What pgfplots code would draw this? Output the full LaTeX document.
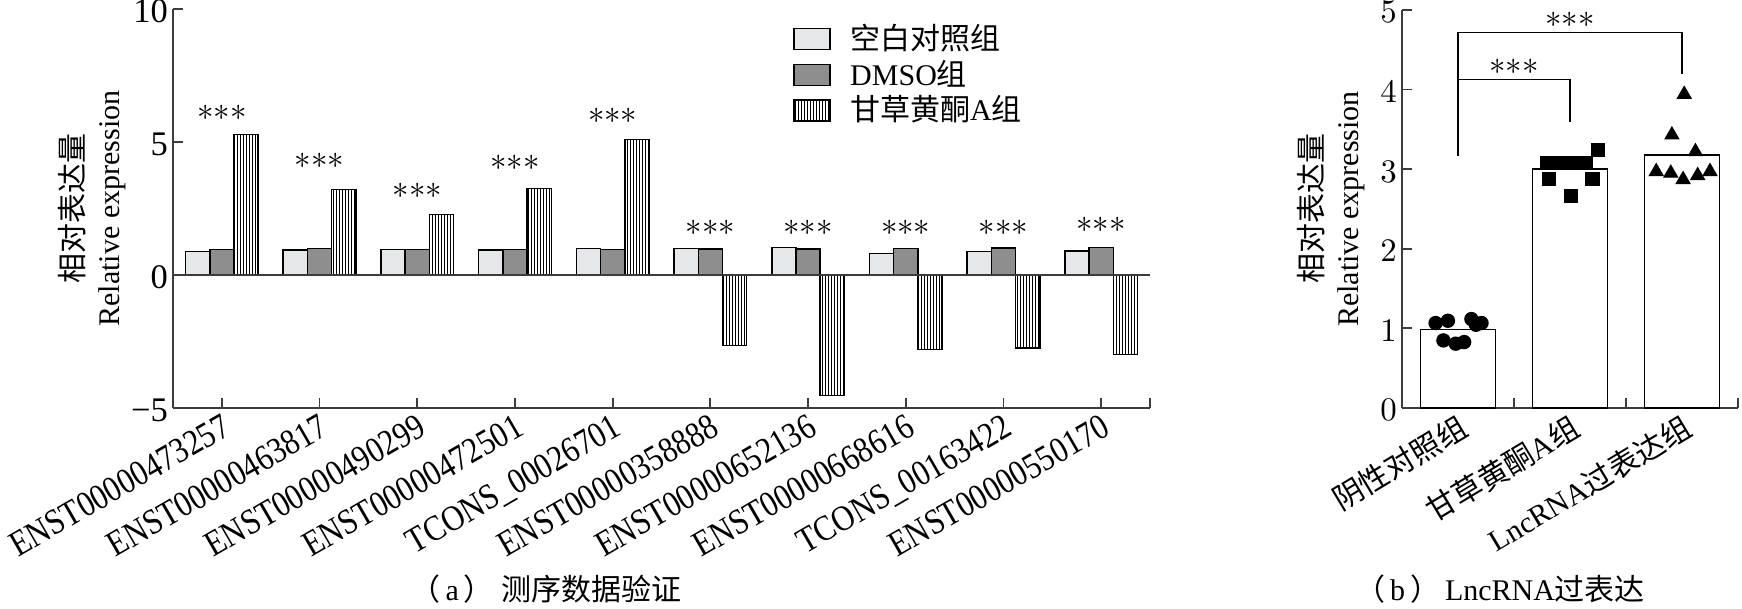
\documentclass[border=0pt]{standalone}
\usepackage{fontspec}
\setmainfont{Liberation Serif}
\newfontfamily\cjk{Noto Sans CJK SC}
\newfontfamily\condensed[FakeStretch=0.86]{Liberation Serif}
\usepackage{pgfplots}
\pgfplotsset{compat=1.18}
\usetikzlibrary{patterns.meta}

\pgfplotstableread{
x a b c
1 0.88 0.96 5.28
2 0.94 0.99 3.21
3 0.96 0.96 2.28
4 0.94 0.96 3.25
5 1.00 0.96 5.09
6 1.00 0.98 -2.65
7 1.04 0.98 -4.53
8 0.81 1.00 -2.80
9 0.88 1.01 -2.75
10 0.91 1.04 -2.98
}\datal

\pgfplotstableread{
x y
0 0.983
1 3.00
2 3.18
}\datar

\pgfplotstableread{
x y
-0.20 1.067
-0.09 1.096
0.12 1.117
0.16 1.046
0.21 1.067
-0.13 0.849
-0.02 0.808
0.055 0.828
}\tabcirc

\pgfplotstableread{
x y
0.80 3.075
0.93 3.075
1.05 3.075
1.14 3.075
1.25 3.24
0.81 2.88
1.20 2.88
1.01 2.66
}\tabsq

\pgfplotstableread{
x y
2.02 3.94
1.91 3.43
2.12 3.22
1.77 2.97
1.90 2.95
2.01 2.87
2.14 2.92
2.25 2.97
}\tabtri

\definecolor{lg}{RGB}{230,231,233}
\definecolor{dg}{RGB}{142,142,142}
\definecolor{ax}{RGB}{60,60,60}
\newcommand\stars{\fontsize{11}{13}\selectfont${\ast}{\ast}{\ast}$}

\begin{document}
\begin{tikzpicture}[x=1pt,y=1pt]
\useasboundingbox (0,0) rectangle (580.67,203);
\begin{axis}[
  at={(57.67pt,67pt)}, anchor=south west, scale only axis,
  width=325.67pt, height=133pt,
  xmin=0.5, xmax=10.5, ymin=-5, ymax=10,
  axis x line*=bottom, axis y line*=left,
  axis line style={-, line width=0.6pt, ax},
  ybar=0pt, bar width=8.07pt,
  legend image code/.code={\draw[#1] (0pt,-3.5pt) rectangle (12pt,3.5pt); \path (17pt,0pt);},
  xtick={1,...,10},
  xticklabels={ENST00000473257,ENST00000463817,ENST00000490299,ENST00000472501,TCONS\_00026701,ENST00000358888,ENST00000652136,ENST00000668616,TCONS\_00163422,ENST00000550170},
  extra x ticks={10.5}, extra x tick labels={},
  ytick={-5,0,5,10}, yticklabels={−5,0,5,10},
  tick align=inside, major tick length=3.3pt,
  tick style={line width=0.6pt, ax},
  xticklabel style={rotate=30, anchor=north east, inner sep=1pt, font=\condensed\fontsize{12}{14}\selectfont},
  yticklabel style={inner xsep=1.5pt, inner ysep=0pt, yshift=-0.8pt, font=\fontsize{11.5}{13}\selectfont},
  ylabel={{\cjk 相对表达量}\\Relative expression},
  ylabel style={at={(axis description cs:-0.048,0.5)}, anchor=south, align=center, inner sep=0pt},
  clip=false,
  legend style={at={(0.625,0.99)}, anchor=north west, draw=none, fill=none,
    font=\cjk, row sep=-1pt, nodes={inner sep=1.5pt}},
  legend cell align=left,
]
\addplot[draw=black, line width=0.5pt, fill=lg] table[x=x,y=a]{\datal};
\addlegendentry{空白对照组}
\addplot[draw=black, line width=0.5pt, fill=dg] table[x=x,y=b]{\datal};
\addlegendentry{{\rmfamily DMSO}组}
\addplot[draw=black, line width=0.5pt, fill=white, pattern={Lines[angle=90,distance=1pt,line width=0.3pt]}] table[x=x,y=c]{\datal};
\addlegendentry{甘草黄酮{\rmfamily A}组}
\draw[line width=0.6pt, ax] (axis cs:0.5,0) -- (axis cs:10.5,0);
\node at (axis cs:1,6.1) {\stars};
\node at (axis cs:2,4.3) {\stars};
\node at (axis cs:3,3.15) {\stars};
\node at (axis cs:4,4.2) {\stars};
\node at (axis cs:5,6.0) {\stars};
\node at (axis cs:6,1.78) {\stars};
\node at (axis cs:7,1.78) {\stars};
\node at (axis cs:8,1.76) {\stars};
\node at (axis cs:9,1.78) {\stars};
\node at (axis cs:10,1.88) {\stars};
\end{axis}

\begin{axis}[
  at={(467.33pt,67pt)}, anchor=south west, scale only axis,
  width=112pt, height=132.67pt,
  xmin=-0.5, xmax=2.5, ymin=0, ymax=5,
  axis x line*=bottom, axis y line*=left,
  axis line style={-, line width=0.6pt, ax},
  xtick={0,1,2},
  xticklabels={{\cjk 阴性对照组},{\cjk 甘草黄酮}A{\cjk 组},LncRNA{\cjk 过表达组}},
  ytick={0,1,2,3,4,5},
  tick align=inside, major tick length=3.3pt,
  tick style={line width=0.6pt, ax},
  xtick style={draw=none},
  xticklabel style={rotate=31, anchor=north east, inner sep=1pt, font=\fontsize{10}{12}\selectfont},
  yticklabel style={inner xsep=1.5pt, inner ysep=0pt, yshift=-0.8pt, font=\fontsize{11}{13}\selectfont},
  ylabel={{\cjk 相对表达量}\\Relative expression},
  ylabel style={at={(axis description cs:-0.11,0.5)}, anchor=south, align=center, inner sep=0pt},
  clip=false,
]
\addplot[ybar, bar width=25pt, draw=black, line width=0.5pt, fill=white] table[x=x,y=y]{\datar};
\addplot[only marks, mark=*, mark size=2.2pt, black] table[x=x,y=y]{\tabcirc};
\addplot[only marks, mark=square*, mark size=2.2pt, black] table[x=x,y=y]{\tabsq};
\addplot[only marks, mark=triangle*, mark size=2.6pt, black] table[x=x,y=y]{\tabtri};
\draw[line width=0.6pt, ax] (axis cs:0.5,0) -- (axis cs:0.5,0.125);
\draw[line width=0.6pt, ax] (axis cs:1.5,0) -- (axis cs:1.5,0.125);
\draw[line width=0.6pt, ax] (axis cs:2.5,0) -- (axis cs:2.5,0.125);
\draw[line width=0.5pt] (axis cs:0,3.16) -- (axis cs:0,4.72) -- (axis cs:2,4.72) -- (axis cs:2,4.2);
\draw[line width=0.5pt] (axis cs:0,4.126) -- (axis cs:1,4.126) -- (axis cs:1,3.59);
\node at (axis cs:1,4.87) {\stars};
\node at (axis cs:0.5,4.29) {\stars};
\end{axis}

\node at (182,6.5) {{\cjk （}\,a\,{\cjk ）} {\cjk 测序数据验证}};
\node at (500,6.5) {{\cjk （}\,b\,{\cjk ）}\,LncRNA{\cjk 过表达}};
\end{tikzpicture}
\end{document}
